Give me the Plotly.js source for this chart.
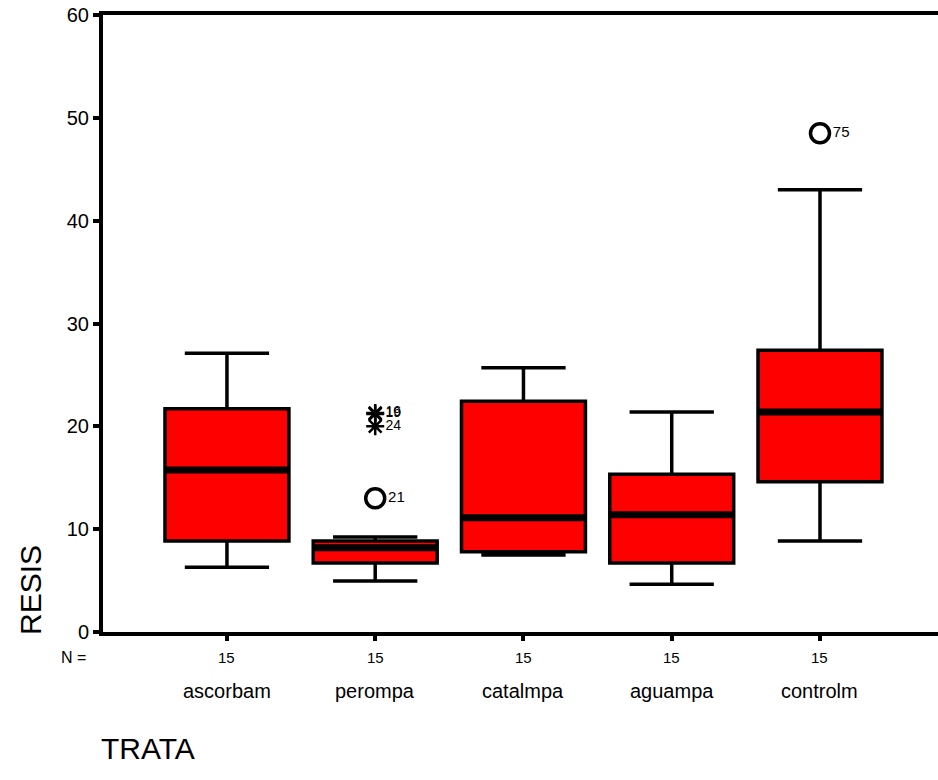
<!DOCTYPE html>
<html>
<head>
<meta charset="utf-8">
<script src="https://cdn.plot.ly/plotly-3.0.1.min.js"></script>
<style>
  html, body { margin: 0; padding: 0; background: #fff; }
  #chart { width: 938px; height: 780px; }
</style>
</head>
<body>
<div id="chart"></div>
<script>
// Treatment groups and their box statistics for RESIS
const categories = ["ascorbam", "perompa", "catalmpa", "aguampa", "controlm"];
const counts = [15, 15, 15, 15, 15];
const lowerWhisker = [6.3, 4.95, 7.5, 4.65, 8.85];
const q1 = [8.85, 6.7, 7.8, 6.7, 14.6];
const median = [15.75, 8.2, 11.1, 11.4, 21.4];
const q3 = [21.7, 8.85, 22.45, 15.35, 27.4];
const upperWhisker = [27.1, 9.25, 25.7, 21.4, 43.0];

// Outlying cases (circle) and extreme cases (asterisk), with case numbers
const outlierGroup = [1, 4];
const outlierValue = [13.0, 48.5];
const outlierCase = ["21", "75"];
const extremeGroup = [1, 1, 1];
const extremeValue = [21.3, 21.2, 20.0];
const extremeCase = ["16", "19", "24"];

const xpos = categories.map((_, i) => i);
const boxWidth = 0.836;
const fontFam = "Liberation Sans, Arial, sans-serif";

const traces = [
  {
    type: "box",
    x: xpos,
    q1: q1,
    median: median,
    q3: q3,
    lowerfence: lowerWhisker,
    upperfence: upperWhisker,
    width: boxWidth,
    whiskerwidth: 0.68,
    fillcolor: "#ff0000",
    line: { color: "#000", width: 3.5 },
    boxpoints: false,
    hoverinfo: "skip",
    showlegend: false
  },
  {
    type: "scatter",
    mode: "markers+text",
    x: outlierGroup,
    y: outlierValue,
    text: outlierCase,
    textposition: "middle right",
    textfont: { family: fontFam, size: 15, color: "#000" },
    marker: { symbol: "circle-open", size: 19, color: "#000", line: { color: "#000", width: 3.5 } },
    cliponaxis: false,
    showlegend: false,
    hoverinfo: "skip"
  },
  {
    type: "scatter",
    mode: "markers+text",
    x: extremeGroup,
    y: extremeValue,
    text: extremeCase,
    textposition: "middle right",
    textfont: { family: fontFam, size: 14, color: "#000" },
    marker: { symbol: "asterisk-open", size: 15, color: "#000", line: { color: "#000", width: 2.5 } },
    cliponaxis: false,
    showlegend: false,
    hoverinfo: "skip"
  }
];

// Heavy median bars across each box
const shapes = median.map((m, i) => ({
  type: "line",
  xref: "x", yref: "y",
  x0: i - boxWidth / 2, x1: i + boxWidth / 2,
  y0: m, y1: m,
  line: { color: "#000", width: 7 }
}));

const annotations = [];
categories.forEach((c, i) => {
  annotations.push({
    xref: "x", yref: "paper", x: i, y: 0, yanchor: "middle", xanchor: "center", yshift: -25,
    text: String(counts[i]), showarrow: false,
    font: { family: fontFam, size: 15, color: "#000" }
  });
  annotations.push({
    xref: "x", yref: "paper", x: i, y: 0, yanchor: "middle", xanchor: "center", yshift: -59,
    text: c, showarrow: false,
    font: { family: fontFam, size: 20, color: "#000" }
  });
});
annotations.push({
  xref: "paper", yref: "paper", x: 0, y: 0, xanchor: "center", yanchor: "middle",
  xshift: -30, yshift: -25,
  text: "N =", showarrow: false,
  font: { family: fontFam, size: 16, color: "#000" }
});
annotations.push({
  xref: "paper", yref: "paper", x: 0, y: 0, xanchor: "center", yanchor: "middle",
  xshift: -73, yshift: 42,
  text: "RESIS", textangle: -90, showarrow: false,
  font: { family: fontFam, size: 30, color: "#000" }
});
annotations.push({
  xref: "paper", yref: "paper", x: 0, y: 0, xanchor: "left", yanchor: "middle",
  xshift: -4, yshift: -116,
  text: "TRATA", showarrow: false,
  font: { family: fontFam, size: 30, color: "#000" }
});

const layout = {
  width: 938,
  height: 780,
  margin: { l: 103, r: 0, t: 15, b: 148 },
  paper_bgcolor: "#fff",
  plot_bgcolor: "#fff",
  font: { family: fontFam, color: "#000" },
  showlegend: false,
  xaxis: {
    range: [-0.836, 4.796],
    tickvals: xpos,
    showticklabels: false,
    ticks: "outside",
    ticklen: 5,
    tickwidth: 4,
    tickcolor: "#000",
    showgrid: false,
    zeroline: false,
    showline: true,
    mirror: true,
    linecolor: "#000",
    linewidth: 4
  },
  yaxis: {
    range: [0, 60],
    tickvals: [0, 10, 20, 30, 40, 50, 60],
    ticks: "outside",
    ticklen: 6,
    tickwidth: 4,
    tickcolor: "#000",
    tickfont: { family: fontFam, size: 20, color: "#000" },
    showgrid: false,
    zeroline: false,
    showline: true,
    linecolor: "#000",
    linewidth: 4
  },
  shapes: shapes,
  annotations: annotations
};

Plotly.newPlot("chart", traces, layout, { staticPlot: true, displayModeBar: false });
</script>
</body>
</html>
